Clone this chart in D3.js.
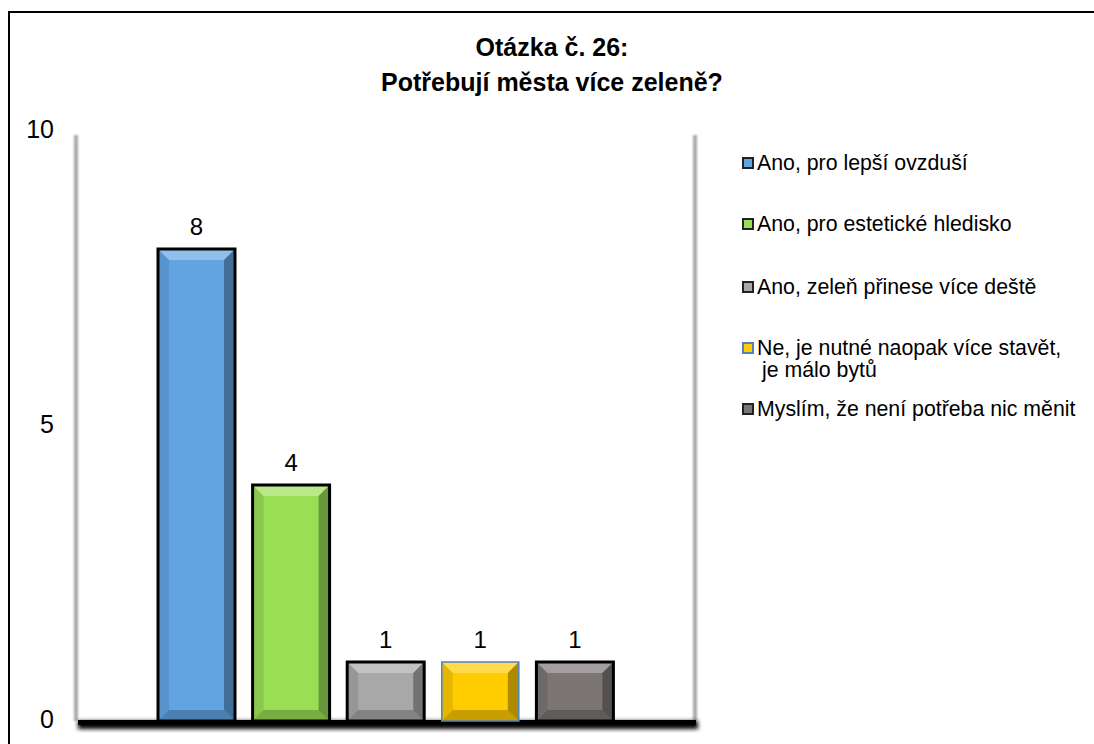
<!DOCTYPE html>
<html><head><meta charset="utf-8">
<script src="https://cdn.jsdelivr.net/npm/d3@7"></script>
<style>html,body{margin:0;padding:0;background:#fff;}svg{display:block;}</style>
</head><body>
<script>
const titleLines = ["Otázka č. 26:", "Potřebují města více zeleně?"];
const categories = ["Ano, pro lepší ovzduší", "Ano, pro estetické hledisko", "Ano, zeleň přinese více deště", "Ne, je nutné naopak více stavět, je málo bytů", "Myslím, že není potřeba nic měnit"];
const legendLines = [["Ano, pro lepší ovzduší"], ["Ano, pro estetické hledisko"], ["Ano, zeleň přinese více deště"], ["Ne, je nutné naopak více stavět,", "je málo bytů"], ["Myslím, že není potřeba nic měnit"]];
const values = [8, 4, 1, 1, 1];
const colors = ["#62a4e2", "#9ade56", "#a8a8a8", "#ffcc00", "#7b7675"];
const strokes = ["#000", "#000", "#000", "#4f81bd", "#000"];
const yTicks = [0, 5, 10];

const W = 1094, H = 744;
const font = "'Liberation Sans', Arial, sans-serif";
const svg = d3.select("body").append("svg").attr("width", W).attr("height", H);
const defs = svg.append("defs");
defs.append("filter").attr("id", "blur").attr("x", "-20%").attr("y", "-80%").attr("width", "140%").attr("height", "300%")
  .append("feGaussianBlur").attr("stdDeviation", 2);
defs.append("filter").attr("id", "blur2").attr("x", "-200%").attr("y", "-5%").attr("width", "500%").attr("height", "110%")
  .append("feGaussianBlur").attr("stdDeviation", 1.2);

// outer frame
svg.append("path").attr("d", `M9,${H+5} V12 H${W+5}`).attr("fill", "none").attr("stroke", "#000").attr("stroke-width", 2);

// title
svg.append("text").attr("font-family", font).attr("font-weight", "bold").attr("font-size", 25)
  .attr("text-anchor", "middle")
  .selectAll("tspan").data(titleLines).join("tspan")
  .attr("x", 552).attr("y", (d, i) => 56 + i * 35).text(d => d);

const y = d3.scaleLinear().domain([0, 10]).range([721, 131]);
const x = d3.scaleBand().domain(categories).range([158, 613.4]).paddingInner(0.186).paddingOuter(0);
const wallL = 77, wallR = 696;

// walls
svg.append("rect").attr("x", wallL - 3).attr("y", y(10) + 4).attr("width", 4).attr("height", y(0) - y(10) - 4)
  .attr("fill", "#a8a8a8").attr("filter", "url(#blur2)");
svg.append("rect").attr("x", wallR - 3).attr("y", y(10) + 4).attr("width", 4).attr("height", y(0) - y(10) - 4)
  .attr("fill", "#a8a8a8").attr("filter", "url(#blur2)");
// floor
svg.append("rect").attr("x", wallL + 1).attr("y", y(0)).attr("width", wallR - wallL + 1).attr("height", 8)
  .attr("fill", "#000").attr("filter", "url(#blur)");
svg.append("rect").attr("x", wallL + 1).attr("y", y(0) - 1).attr("width", wallR - wallL - 1).attr("height", 5)
  .attr("fill", "#000");

// y axis labels
svg.append("g").selectAll("text").data(yTicks).join("text")
  .attr("x", 54).attr("y", d => y(d) + 7).attr("text-anchor", "end")
  .attr("font-family", font).attr("font-size", 25).text(d => d);

// bars
const bars = svg.append("g").selectAll("g").data(categories).join("g");
bars.each(function (c, i) {
  const g = d3.select(this);
  const bx = x(c), bw = x.bandwidth(), by = y(values[i]), bh = y(0) - y(values[i]);
  const b = Math.min(11, bh / 3);
  g.append("rect").attr("x", bx).attr("y", by).attr("width", bw).attr("height", bh).attr("fill", colors[i]);
  const poly = (pts, fill, op) => g.append("polygon").attr("points", pts.map(p => p.join(",")).join(" ")).attr("fill", fill).attr("opacity", op);
  poly([[bx, by], [bx + bw, by], [bx + bw - b, by + b], [bx + b, by + b]], "#fff", 0.3);
  poly([[bx + bw, by], [bx + bw, by + bh], [bx + bw - b, by + bh - b], [bx + bw - b, by + b]], "#000", 0.32);
  poly([[bx, by + bh], [bx + bw, by + bh], [bx + bw - b, by + bh - b], [bx + b, by + bh - b]], "#000", 0.22);
  poly([[bx, by], [bx + b, by + b], [bx + b, by + bh - b], [bx, by + bh]], "#000", 0.1);
  g.append("rect").attr("x", bx).attr("y", by).attr("width", bw).attr("height", bh)
    .attr("fill", "none").attr("stroke", strokes[i]).attr("stroke-width", i === 3 ? 1.5 : 3);
  g.append("text").attr("x", bx + bw / 2).attr("y", by - 14).attr("text-anchor", "middle")
    .attr("font-family", font).attr("font-size", 24).text(values[i]);
});

// legend
const legendY = [163, 224, 287, 348, 409];
const lg = svg.append("g").selectAll("g").data(categories).join("g")
  .attr("transform", (d, i) => `translate(742,${legendY[i]})`);
lg.append("rect").attr("x", 1).attr("y", -5).attr("width", 10).attr("height", 10)
  .attr("fill", (d, i) => colors[i]).attr("stroke", (d, i) => i === 3 ? "#4f81bd" : "#222").attr("stroke-width", 2);
lg.append("text").attr("font-family", font).attr("font-size", 21.3)
  .selectAll("tspan").data((d, i) => legendLines[i]).join("tspan")
  .attr("x", (d, j) => j === 0 ? 15 : 20).attr("y", (d, j) => 7 + j * 22).text(d => d);
</script>
</body></html>
